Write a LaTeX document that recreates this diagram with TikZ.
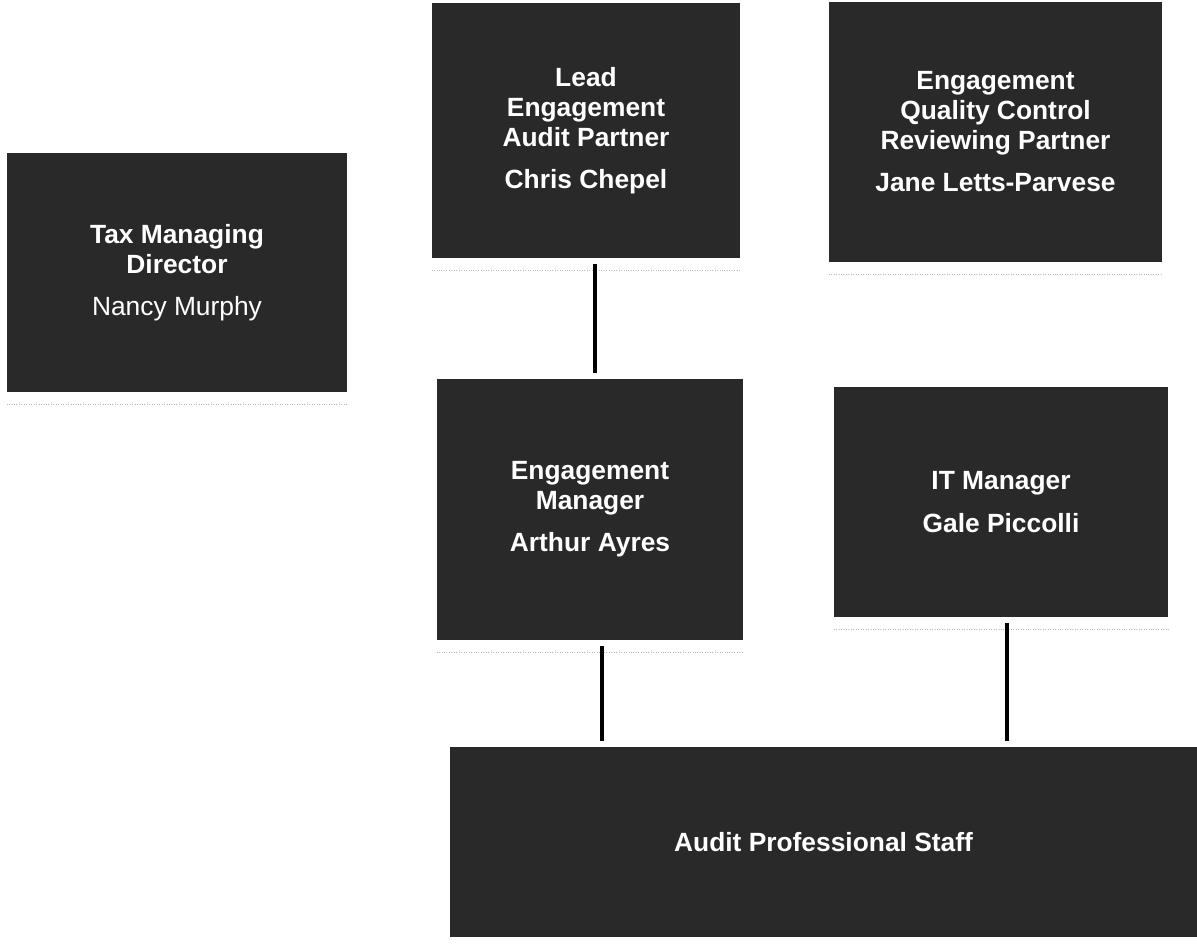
\documentclass[tikz,border=0pt]{standalone}
\usepackage{fontspec}
\setmainfont{Liberation Sans}
\usepackage{xcolor}
\usepackage{tikz}
\usetikzlibrary{calc,positioning}

\definecolor{boxgray}{gray}{0.16}
\tikzset{
  orgbox/.style={fill=boxgray, text=white, align=center, inner sep=0pt,
    font=\bfseries\fontsize{15}{17}\selectfont},
  link/.style={line width=2.8pt, black, shorten <=0.12cm, shorten >=0.12cm},
  scanline/.style={gray!55, densely dotted, thin}
}

\begin{document}
\begin{tikzpicture}

\useasboundingbox (0,0) rectangle (23.94,-18.9);

%Boxes
\node[orgbox, minimum width=6.8cm, minimum height=4.78cm] (tax) at (3.54,-5.45)
  {Tax Managing\\Director\\[7pt]\mdseries Nancy Murphy};
\node[orgbox, minimum width=6.16cm, minimum height=5.1cm] (lead) at (11.72,-2.61)
  {Lead\\Engagement\\Audit Partner\\[7pt]Chris Chepel};
\node[orgbox, minimum width=6.66cm, minimum height=5.2cm] (eqcr) at (19.91,-2.64)
  {Engagement\\Quality Control\\Reviewing Partner\\[7pt]Jane Letts-Parvese};
\node[orgbox, minimum width=6.12cm, minimum height=5.22cm] (engmgr) at (11.8,-10.19)
  {Engagement\\Manager\\[7pt]Arthur Ayres};
\node[orgbox, minimum width=6.68cm, minimum height=4.6cm] (itmgr) at (20.02,-10.04)
  {IT Manager\\[7pt]Gale Piccolli};
\node[orgbox, minimum width=14.94cm, minimum height=3.8cm] (staff) at (16.47,-16.84)
  {Audit Professional Staff};

%Scan lines
\foreach \n in {tax,lead,eqcr,engmgr,itmgr}
  \draw[scanline] ([yshift=-0.24cm]\n.south west) -- ([yshift=-0.24cm]\n.south east);

%Links
\draw[link] ([xshift=0.18cm]lead.south) -- ([xshift=0.18cm]lead.south |- engmgr.north);
\draw[link] ([xshift=0.24cm]engmgr.south) -- ([xshift=0.24cm]engmgr.south |- staff.north);
\draw[link] ([xshift=0.12cm]itmgr.south) -- ([xshift=0.12cm]itmgr.south |- staff.north);

\end{tikzpicture}
\end{document}
